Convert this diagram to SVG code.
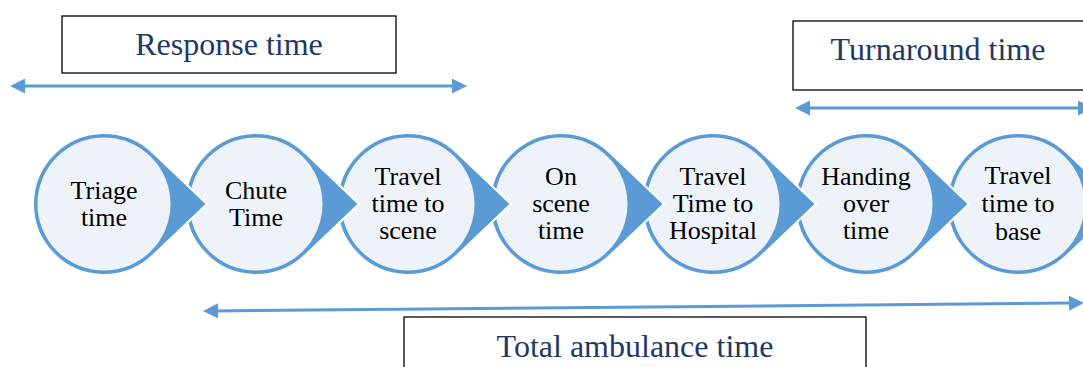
<svg xmlns="http://www.w3.org/2000/svg" width="1083" height="367" viewBox="0 0 1083 367">
<style>
.drop{fill:#5B9BD5;stroke:#FFFFFF;stroke-width:2}
.inner{fill:#EEF2F9}
.lbl{font-family:"Liberation Serif","Times New Roman",serif;font-size:26px;fill:#000;text-anchor:middle}
.box{fill:#FFFFFF;stroke:#000;stroke-width:1.3}
.cap{font-family:"Liberation Serif","Times New Roman",serif;font-size:32px;fill:#1F3864;text-anchor:middle}
.arr{stroke:#5B9BD5;stroke-width:3;fill:none;marker-start:url(#ah);marker-end:url(#ah)}
</style>
<defs>
<marker id="ah" viewBox="0 0 15 15" refX="3" refY="7.5" markerWidth="15" markerHeight="15" markerUnits="userSpaceOnUse" orient="auto-start-reverse">
<path d="M0,0 L15,7.5 L0,15 Z" fill="#5B9BD5"/>
</marker>
<path id="tear" d="M48.9,-51.5 L103,0 L48.9,51.5 A71,71 0 1 1 48.9,-51.5 Z"/>
</defs>
<rect width="1083" height="367" fill="#FFFFFF"/>
<g id="node-travel-base" transform="translate(1018,204)">
<use href="#tear" class="drop"/><circle r="66.5" class="inner"/>
<text class="lbl"><tspan x="0" y="-20">Travel</tspan><tspan x="0" y="8">time to</tspan><tspan x="0" y="36">base</tspan></text>
</g>
<g id="node-handing-over" transform="translate(866,204)">
<use href="#tear" class="drop"/><circle r="66.5" class="inner"/>
<text class="lbl"><tspan x="0" y="-19">Handing</tspan><tspan x="0" y="8">over</tspan><tspan x="0" y="35">time</tspan></text>
</g>
<g id="node-travel-hospital" transform="translate(713,204)">
<use href="#tear" class="drop"/><circle r="66.5" class="inner"/>
<text class="lbl"><tspan x="0" y="-19">Travel</tspan><tspan x="0" y="8">Time to</tspan><tspan x="0" y="35">Hospital</tspan></text>
</g>
<g id="node-on-scene" transform="translate(561,204)">
<use href="#tear" class="drop"/><circle r="66.5" class="inner"/>
<text class="lbl"><tspan x="0" y="-19">On</tspan><tspan x="0" y="8">scene</tspan><tspan x="0" y="35">time</tspan></text>
</g>
<g id="node-travel-scene" transform="translate(408,204)">
<use href="#tear" class="drop"/><circle r="66.5" class="inner"/>
<text class="lbl"><tspan x="0" y="-19">Travel</tspan><tspan x="0" y="8">time to</tspan><tspan x="0" y="35">scene</tspan></text>
</g>
<g id="node-chute" transform="translate(256,204)">
<use href="#tear" class="drop"/><circle r="66.5" class="inner"/>
<text class="lbl"><tspan x="0" y="-5">Chute</tspan><tspan x="0" y="22">Time</tspan></text>
</g>
<g id="node-triage" transform="translate(104,204)">
<use href="#tear" class="drop"/><circle r="66.5" class="inner"/>
<text class="lbl"><tspan x="0" y="-5">Triage</tspan><tspan x="0" y="22">time</tspan></text>
</g>
<g id="label-response">
<rect x="62" y="16" width="334" height="57" class="box"/>
<text class="cap" x="229" y="55">Response time</text>
</g>
<g id="label-turnaround">
<rect x="793" y="21" width="295" height="69" class="box"/>
<text class="cap" x="938" y="60">Turnaround time</text>
</g>
<g id="label-total">
<rect x="404" y="317" width="462" height="60" class="box"/>
<text class="cap" x="635" y="357">Total ambulance time</text>
</g>
<g id="connectors">
<line x1="22" y1="86" x2="455" y2="86" class="arr"/>
<line x1="807" y1="108" x2="1081" y2="108" class="arr"/>
<line x1="215" y1="310.9" x2="1072" y2="303.1" class="arr"/>
</g>
</svg>
